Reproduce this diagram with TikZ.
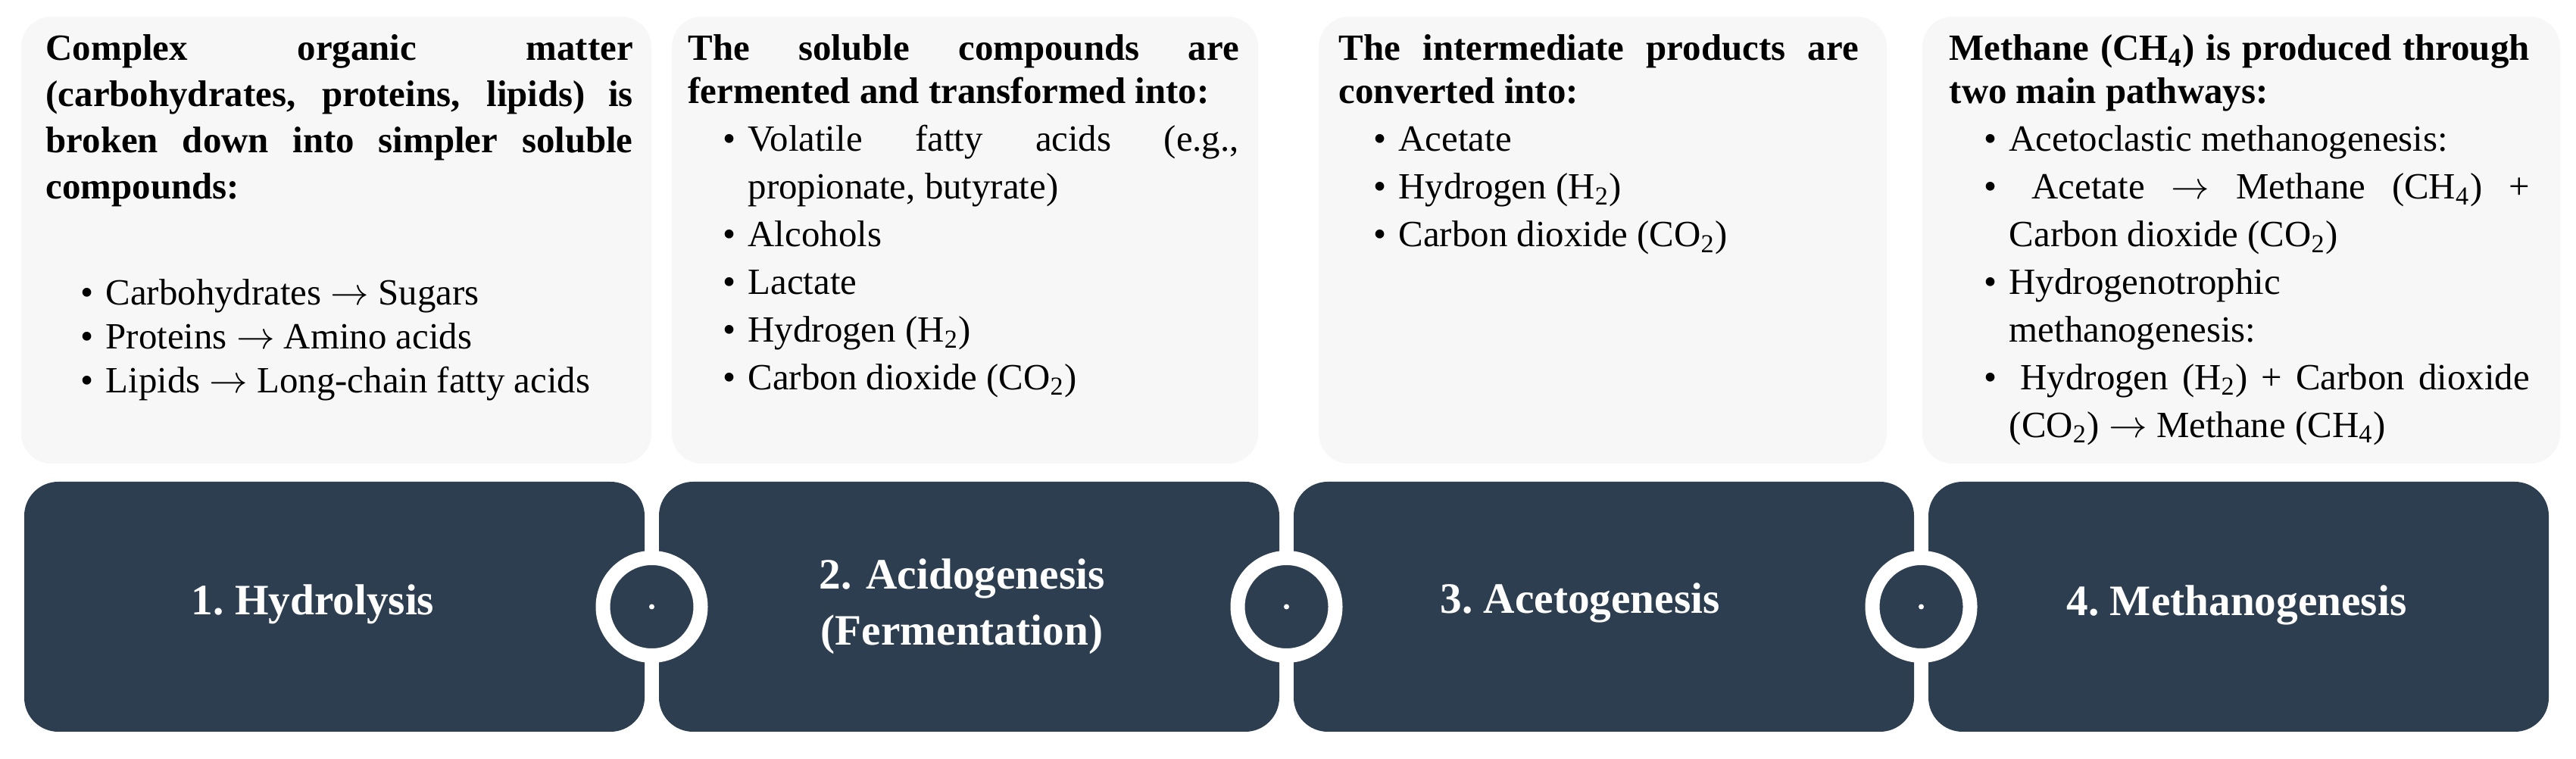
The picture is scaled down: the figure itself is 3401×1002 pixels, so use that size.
\documentclass[tikz,border=0pt]{standalone}
\usepackage{fontspec}
\setmainfont{Liberation Serif}
\usetikzlibrary{positioning}

\definecolor{stagecol}{HTML}{2C3E50}
\definecolor{notecol}{HTML}{F7F7F7}

\newlength\bulletind
\setlength\bulletind{4.6mm}
\newlength\itemind
\setlength\itemind{7.9mm}
\newcommand\bitem[1]{\par\hangindent=\itemind\hangafter=1\noindent\makebox[\itemind][l]{\hspace{\bulletind}\textbullet}#1\par}
\newcommand\subs[1]{\textsubscript{#1}}

\tikzset{
    note/.style = {fill = notecol, rounded corners = 4mm, inner sep = 0, outer sep = 0, anchor = north west},
    stage/.style = {fill = stagecol, rounded corners = 4.5mm, inner sep = 0, outer sep = 0, anchor = north west, minimum width = 81.9mm, minimum height = 33mm},
    notetext/.style = {anchor = base west, inner sep = 0, align = justify, font = \fontsize{13.9pt}{17.9pt}\selectfont},
    stagetext/.style = {anchor = base, inner sep = 0, align = center, text = white, font = \fontsize{16.3pt}{21pt}\selectfont\bfseries},
    ring/.style = {circle, draw = white, line width = 1.9mm, fill = stagecol, minimum size = 12.9mm, inner sep = 0},
}

\begin{document}
\begin{tikzpicture}[x = 0.1mm, y = -0.1mm]

    \useasboundingbox (0,0) rectangle (3401,1002);
    \fill[white] (0,0) rectangle (3401,1002);

    % upper notes
    \node[note, minimum width = 83.2mm, minimum height = 59mm] (t1) at (28,22) {};
    \node[note, minimum width = 77.4mm, minimum height = 59mm] (t2) at (887,22) {};
    \node[note, minimum width = 75mm, minimum height = 59mm] (t3) at (1741,22) {};
    \node[note, minimum width = 84.2mm, minimum height = 59mm] (t4) at (2538,22) {};

    \node[notetext, text width = 77.5mm] (n1) at (60,80) {%
        {\bfseries\baselineskip=17.3pt Complex organic matter\linebreak (carbohydrates, proteins, lipids) is\linebreak broken down into simpler soluble\linebreak compounds:\par}
        \baselineskip=16.5pt
        \vspace{23.4pt}
        \bitem{Carbohydrates $\rightarrow$ Sugars}
        \bitem{Proteins $\rightarrow$ Amino acids}
        \bitem{Lipids $\rightarrow$ Long-chain fatty acids}};

    \node[notetext, text width = 72.7mm] (n2) at (908,80) {%
        {\bfseries\baselineskip=16.2pt The soluble compounds are\linebreak fermented and transformed into:\par}
        \bitem{Volatile fatty acids (e.g.,\linebreak propionate, butyrate)}
        \bitem{Alcohols}
        \bitem{Lactate}
        \bitem{Hydrogen (H\subs{2})}
        \bitem{Carbon dioxide (CO\subs{2})}};

    \node[notetext, text width = 68.6mm] (n3) at (1767,80) {%
        {\bfseries\baselineskip=16.2pt The intermediate products are\linebreak converted into:\par}
        \bitem{Acetate}
        \bitem{Hydrogen (H\subs{2})}
        \bitem{Carbon dioxide (CO\subs{2})}};

    \node[notetext, text width = 76.6mm] (n4) at (2573,80) {%
        {\bfseries\baselineskip=16.2pt Methane (CH\subs{4}) is produced through\linebreak two main pathways:\par}
        \bitem{Acetoclastic methanogenesis:}
        \bitem{\hspace{3mm}Acetate $\rightarrow$ Methane (CH\subs{4}) +\linebreak Carbon dioxide (CO\subs{2})}
        \bitem{Hydrogenotrophic\newline methanogenesis:}
        \bitem{\hspace{1.5mm}Hydrogen (H\subs{2}) + Carbon dioxide\linebreak (CO\subs{2}) $\rightarrow$ Methane (CH\subs{4})}};

    % stages
    \node[stage] (d1) at (32,636) {};
    \node[stage] (d2) at (870,636) {};
    \node[stage] (d3) at (1708,636) {};
    \node[stage] (d4) at (2546,636) {};

    \node[ring] (r1) at (860.5,801) {};
    \node[ring] (r2) at (1698.5,801) {};
    \node[ring] (r3) at (2536.5,801) {};
    \fill[white] (r1) circle (3.5);
    \fill[white] (r2) circle (3.5);
    \fill[white] (r3) circle (3.5);

    \node[stagetext] (s1) at (413,812) {1.\ Hydrolysis};
    \node[stagetext, text width = 60mm] (s2) at (1270,778) {2.\ Acidogenesis\\(Fermentation)};
    \node[stagetext] (s3) at (2086,810) {3.\ Acetogenesis};
    \node[stagetext] (s4) at (2953,813) {4.\ Methanogenesis};

\end{tikzpicture}
\end{document}
